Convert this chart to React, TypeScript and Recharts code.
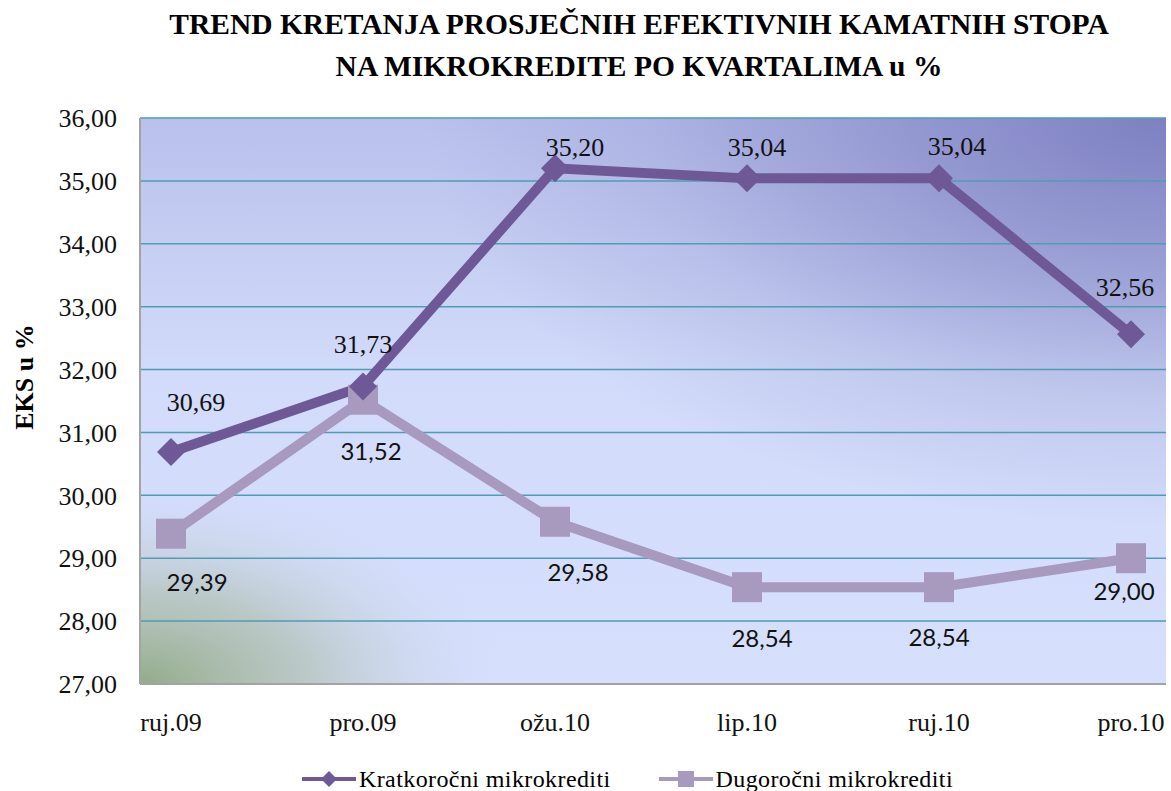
import React from "react";
import { LineChart, Line, XAxis, YAxis, CartesianGrid } from "recharts";

const quarters = ["ruj.09", "pro.09", "ožu.10", "lip.10", "ruj.10", "pro.10"];
const kratkorocni = [30.69, 31.73, 35.2, 35.04, 35.04, 32.56];
const dugorocni = [29.39, 31.52, 29.58, 28.54, 28.54, 29.0];
const yTicks = [27, 28, 29, 30, 31, 32, 33, 34, 35, 36];

// label nudges, tuned against the reference
const kratOffsets = [[25, -49], [0, -42], [20, -21], [10, -31], [18, -32], [-6, -47]];
const dugOffsets = [[26, 48], [8, 51], [23, 50], [15, 50], [0, 49], [-7, 32]];

const KRAT = "#6e5895";
const DUG = "#a899be";
const SERIF = "'Liberation Serif', 'Times New Roman', serif";
const SANS = "Lato, 'Open Sans', sans-serif";

const data = quarters.map((q, i) => ({ q, krat: kratkorocni[i], dug: dugorocni[i] }));
const fmt = (v: number) => v.toFixed(2).replace(".", ",");

const Diamond = ({ cx, cy }: any) => (
  <path d={`M${cx},${cy - 14} L${cx + 14},${cy} L${cx},${cy + 14} L${cx - 14},${cy} Z`} fill={KRAT} />
);
const Square = ({ cx, cy }: any) => <rect x={cx - 15} y={cy - 15} width={30} height={30} fill={DUG} />;

const makeLabel = (offsets: number[][], font: string, size: number) => (props: any) => {
  const { x, y, index, value } = props;
  const [dx, dy] = offsets[index] || [0, 0];
  return (
    <text
      x={x + dx}
      y={y + dy}
      textAnchor="middle"
      dominantBaseline="central"
      fontFamily={font}
      style={{ fontFamily: font, fontSize: size, fill: "#111" }}
    >
      {fmt(value)}
    </text>
  );
};

export default function App() {
  return (
    <div style={{ position: "fixed", top: 0, left: 0, width: 1171, height: 791, background: "#fff", overflow: "hidden" }}>
      <div
        style={{
          position: "absolute",
          top: 3,
          left: 0,
          width: 1278,
          textAlign: "center",
          fontFamily: SERIF,
          fontWeight: "bold",
          fontSize: 29.5,
          lineHeight: "42px",
          color: "#000",
        }}
      >
        TREND KRETANJA PROSJEČNIH EFEKTIVNIH KAMATNIH STOPA
        <br />
        NA MIKROKREDITE PO KVARTALIMA u %
      </div>
      <div
        style={{
          position: "absolute",
          left: 25,
          top: 377,
          transform: "translate(-50%, -50%) rotate(-90deg)",
          fontFamily: SERIF,
          fontWeight: "bold",
          fontSize: 26,
          whiteSpace: "nowrap",
        }}
      >
        EKS u %
      </div>
      <div style={{ position: "absolute", left: 0, top: 0 }}>
        <LineChart width={1171} height={791} data={data} margin={{ top: 118, right: 5, left: 0, bottom: 47 }}>
          <defs>
            <linearGradient id="plotBase" x1="0" y1="0" x2="0" y2="1">
              <stop offset="0" stopColor="#b9c0ec" />
              <stop offset="0.45" stopColor="#d2dbfa" />
              <stop offset="1" stopColor="#d6dffc" />
            </linearGradient>
            <radialGradient id="plotDark" cx="1" cy="0" r="0.72">
              <stop offset="0" stopColor="#7b7dbf" stopOpacity="0.95" />
              <stop offset="0.35" stopColor="#7b7dbf" stopOpacity="0.6" />
              <stop offset="0.7" stopColor="#7b7dbf" stopOpacity="0.2" />
              <stop offset="1" stopColor="#7b7dbf" stopOpacity="0" />
            </radialGradient>
            <radialGradient id="greenCorner" cx="0" cy="1" r="0.36">
              <stop offset="0" stopColor="#8fa983" stopOpacity="0.95" />
              <stop offset="0.45" stopColor="#a9b9a4" stopOpacity="0.6" />
              <stop offset="1" stopColor="#d2dbfa" stopOpacity="0" />
            </radialGradient>
          </defs>
          <CartesianGrid horizontal={false} vertical={false} fill="url(#plotBase)" />
          <CartesianGrid horizontal={false} vertical={false} fill="url(#plotDark)" />
          <CartesianGrid horizontal={false} vertical={false} fill="url(#greenCorner)" />
          <CartesianGrid vertical={false} stroke="#4e9db2" strokeWidth={1.5} strokeOpacity={1} />
          <XAxis
            dataKey="q"
            height={60}
            padding={{ left: 31, right: 35 }}
            tickLine={false}
            tickSize={0}
            tickMargin={29}
            axisLine={{ stroke: "#a3a3a3", strokeWidth: 2 }}
            tick={{ fontFamily: SERIF, fontSize: 26, fill: "#111" }}
            interval={0}
          />
          <XAxis xAxisId="top" orientation="top" dataKey="q" height={0} tick={false} tickLine={false} axisLine={{ stroke: "#b9b2d6", strokeWidth: 2 }} />
          <YAxis
            domain={[27, 36]}
            ticks={yTicks}
            width={140}
            tickLine={false}
            tickSize={0}
            tickMargin={23}
            tickFormatter={fmt}
            axisLine={{ stroke: "#a3a3a3", strokeWidth: 2 }}
            tick={{ fontFamily: SERIF, fontSize: 26, fill: "#111" }}
            allowDataOverflow
          />
          <YAxis yAxisId="right" orientation="right" width={0} tick={false} tickLine={false} axisLine={{ stroke: "#b9b2d6", strokeWidth: 2 }} />
          <Line
            dataKey="dug"
            stroke={DUG}
            strokeWidth={10}
            dot={<Square />}
            activeDot={false}
            isAnimationActive={false}
            label={makeLabel(dugOffsets, SANS, 24)}
          />
          <Line
            dataKey="krat"
            stroke={KRAT}
            strokeWidth={10}
            dot={<Diamond />}
            activeDot={false}
            isAnimationActive={false}
            label={makeLabel(kratOffsets, SERIF, 26)}
          />
        </LineChart>
      </div>
      <div
        style={{
          position: "absolute",
          top: 766,
          left: 302,
          height: 26,
          display: "flex",
          alignItems: "center",
          fontFamily: SERIF,
          fontSize: 24,
          lineHeight: "26px",
          letterSpacing: 0.4,
          color: "#000",
        }}
      >
        <svg width={54} height={26}>
          <line x1={0} y1={13} x2={54} y2={13} stroke={KRAT} strokeWidth={4} />
          <path d="M27,5 L35,13 L27,21 L19,13 Z" fill={KRAT} />
        </svg>
        <span style={{ marginLeft: 3 }}>Kratkoročni mikrokrediti</span>
        <svg width={54} height={26} style={{ marginLeft: 48 }}>
          <line x1={0} y1={13} x2={54} y2={13} stroke={DUG} strokeWidth={4} />
          <rect x={19} y={5} width={16} height={16} fill={DUG} />
        </svg>
        <span style={{ marginLeft: 3 }}>Dugoročni mikrokrediti</span>
      </div>
    </div>
  );
}
